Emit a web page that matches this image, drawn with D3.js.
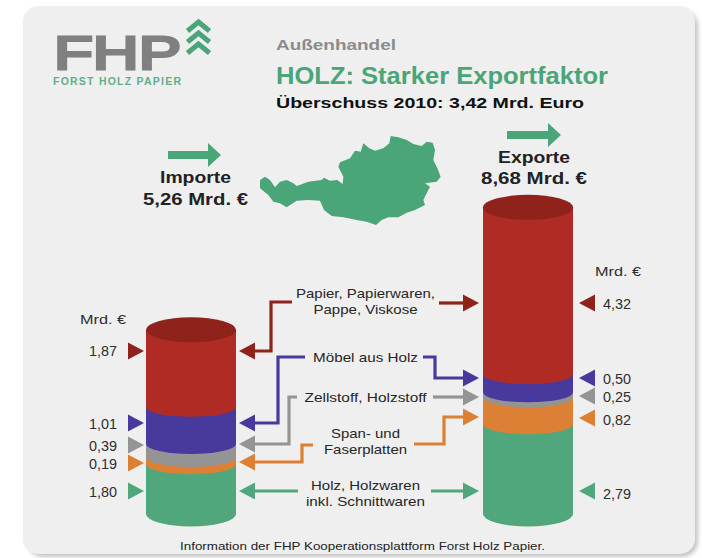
<!DOCTYPE html>
<html>
<head>
<meta charset="utf-8">
<script src="https://cdn.jsdelivr.net/npm/d3@7"></script>
<style>
html, body { margin: 0; padding: 0; background: #fff; }
svg { display: block; }
text { font-family: "Liberation Sans", Arial, sans-serif; }
</style>
</head>
<body>
<svg id="chart" width="702" height="558"></svg>
<script>
const categories = ['Papier', 'Moebel', 'Zellstoff', 'Platten', 'Holz'];
const categoryColors = ['#b02b24', '#483a9c', '#949494', '#dc8035', '#50a77b'];
const markerColors = ['#8f221b', '#483a9c', '#949494', '#dc8035', '#50a77b'];
const categoryLabels = [
    ['Papier, Papierwaren,', 'Pappe, Viskose'],
    ['Möbel aus Holz'],
    ['Zellstoff, Holzstoff'],
    ['Span- und', 'Faserplatten'],
    ['Holz, Holzwaren', 'inkl. Schnittwaren']
];

// labelled values in Mrd. Euro
const importValues = [1.87, 1.01, 0.39, 0.19, 1.80];
const exportValues = [4.32, 0.50, 0.25, 0.82, 2.79];
const importTotal = 5.26;
const exportTotal = 8.68;

// the bands in the original graphic are not drawn to scale,
// so these are the thicknesses, in the same unit
const importBands = [2.18, 1.05, 0.37, 0.20, 1.41];
const exportBands = [4.72, 0.51, 0.14, 0.76, 2.54];

// outline of Austria
const mapOutline = [[30,150],[45,140],[60,150],[75,172],[90,155],[110,150],[130,160],[140,168],[175,155],[215,150],
    [222,143],[240,152],[262,150],[278,162],[280,140],[265,110],[270,97],[300,85],[315,62],[332,65],[340,40],[358,55],
    [375,62],[400,55],[418,40],[422,18],[445,22],[470,30],[490,42],[515,48],[530,35],[548,38],[555,60],[550,90],
    [562,115],[572,140],[560,155],[525,160],[540,170],[530,190],[520,210],[525,225],[495,240],[470,248],[445,262],
    [415,262],[395,270],[378,285],[350,275],[320,270],[280,262],[245,258],[222,240],[210,212],[175,210],[140,212],
    [110,232],[90,220],[70,215],[55,195],[30,175]];

const GREEN = '#4aa578';
const svg = d3.select('#chart');
const fmt = v => v.toFixed(2).replace('.', ',');

/**
 * panel behind everything, with the soft edge on the right and at the bottom
 */
const defs = svg.append('defs');
defs.append('filter').attr('id', 'soft')
    .attr('x', '-5%').attr('y', '-5%').attr('width', '110%').attr('height', '110%')
    .append('feGaussianBlur').attr('stdDeviation', 2);
svg.append('rect')
    .attr('x', 27).attr('y', 10).attr('width', 671).attr('height', 547).attr('rx', 16)
    .attr('fill', '#c4c4c4').attr('filter', 'url(#soft)');
svg.append('rect')
    .attr('x', 23).attr('y', 6).attr('width', 672).attr('height', 548).attr('rx', 15)
    .attr('fill', '#efefef');

/**
 * logo
 */
const logo = svg.append('g');
logo.append('text')
    .attr('x', 54).attr('y', 68.5)
    .attr('textLength', 127).attr('lengthAdjust', 'spacingAndGlyphs')
    .attr('font-size', 47).attr('fill', '#808080')
    .attr('stroke', '#808080').attr('stroke-width', 3)
    .text('FHP');
logo.append('text')
    .attr('x', 53).attr('y', 85)
    .attr('textLength', 128).attr('lengthAdjust', 'spacing')
    .attr('font-size', 10.5).attr('font-weight', 'bold').attr('fill', '#5fb08a')
    .text('FORST HOLZ PAPIER');
logo.selectAll('path.chevron')
    .data([22, 33, 44])
    .enter()
    .append('path')
    .attr('class', 'chevron')
    .attr('d', d => `M187.5,${d + 9}L198.5,${d}L209.5,${d + 9}`)
    .attr('fill', 'none').attr('stroke', GREEN).attr('stroke-width', 5);

/**
 * text helper; opts.w stretches the glyphs to the width seen in the reference
 */
const addText = function(x, y, str, size, opts){
    opts = opts || {};
    const t = svg.append('text')
        .attr('x', x).attr('y', y)
        .attr('font-size', size)
        .attr('font-weight', opts.weight || 'normal')
        .attr('fill', opts.fill || '#222')
        .attr('text-anchor', opts.anchor || 'start')
        .text(str);
    if(opts.w){
        t.attr('textLength', opts.w).attr('lengthAdjust', 'spacingAndGlyphs');
    }
    return t;
};
addText(276, 50, 'Außenhandel', 15, {weight: 'bold', fill: '#8c8c8c', w: 120});
addText(276, 84, 'HOLZ: Starker Exportfaktor', 23, {weight: 'bold', fill: GREEN, w: 332});
addText(276, 108, 'Überschuss 2010: ' + fmt(exportTotal - importTotal) + ' Mrd. Euro', 15.5, {weight: 'bold', fill: '#111', w: 308});
addText(195.5, 183, 'Importe', 16, {weight: 'bold', anchor: 'middle', w: 71});
addText(195.5, 205, fmt(importTotal) + ' Mrd. €', 16, {weight: 'bold', anchor: 'middle', w: 105});
addText(534, 163, 'Exporte', 16, {weight: 'bold', anchor: 'middle', w: 72});
addText(534, 184, fmt(exportTotal) + ' Mrd. €', 16, {weight: 'bold', anchor: 'middle', w: 106});
addText(362.5, 550, 'Information der FHP Kooperationsplattform Forst Holz Papier.', 11.3, {anchor: 'middle', fill: '#222', w: 365});

/**
 * big flow arrows above the two totals
 */
const bigArrow = function(x0, x1, y){
    svg.append('path')
        .attr('d', `M${x0},${y - 4}H${x1 - 13}V${y - 12}L${x1},${y}L${x1 - 13},${y + 12}V${y + 4}H${x0}Z`)
        .attr('fill', GREEN);
};
bigArrow(168, 221, 155);
bigArrow(507, 561, 135);

/**
 * map
 */
const mapX = d3.scaleLinear().domain([0, 600]).range([250, 450]);
const mapY = d3.scaleLinear().domain([0, 300]).range([130, 230]);
svg.append('path')
    .attr('d', d3.line().x(d => mapX(d[0])).y(d => mapY(d[1])).curve(d3.curveLinearClosed)(mapOutline))
    .attr('fill', GREEN);

/**
 * cylinders
 */
const y = d3.scaleLinear().domain([0, exportTotal]).range([514, 207]);
const importX = d3.scaleBand().domain(['Importe']).range([146, 236]);
const exportX = d3.scaleBand().domain(['Exporte']).range([483, 573]);

const drawCylinder = function(xScale, name, bands){
    const x0 = xScale(name), w = xScale.bandwidth(), rx = w / 2, ry = 12.5, innerRy = 10;
    const g = svg.append('g').attr('class', 'cylinder ' + name);
    const total = d3.sum(bands);
    // running top of each band, painted bottom-up so each curve overlaps the next
    let stack = bands.map((v, i) => ({
        i: i,
        top: total - d3.sum(bands.slice(0, i)),
        bottom: total - d3.sum(bands.slice(0, i + 1)),
        ry: i === bands.length - 1 ? ry : innerRy
    }));
    // the very last band ends exactly on the baseline
    stack[stack.length - 1].bottom = 0;
    g.selectAll('path.band')
        .data(stack.slice().reverse())
        .enter()
        .append('path')
        .attr('class', 'band')
        .attr('d', d => `M${x0},${y(d.top)}V${y(d.bottom)}A${rx},${d.ry} 0 0 0 ${x0 + w},${y(d.bottom)}V${y(d.top)}Z`)
        .attr('fill', d => categoryColors[d.i]);
    // lid, and the curved upper edge it needs above the body
    g.append('ellipse')
        .attr('cx', x0 + rx).attr('cy', y(total))
        .attr('rx', rx).attr('ry', ry)
        .attr('fill', '#8f221b');
};
drawCylinder(importX, 'Importe', importBands);
drawCylinder(exportX, 'Exporte', exportBands);

/**
 * arrows and value labels
 */
const triangle = function(tipX, cy, dir, color, half){
    const h = half || 8.5;
    svg.append('path')
        .attr('d', `M${tipX},${cy}L${tipX - dir * 16},${cy - h}V${cy + h}Z`)
        .attr('fill', color);
};

// vertical centre of the markers and labels beside each cylinder
const importMarkerY = [351, 423, 445, 463, 491];
const exportMarkerY = [303, 378, 396, 418, 491];
const importLabelY = [356, 429, 451, 469, 497];
const exportLabelY = [309, 384, 402, 425, 499];

importValues.forEach(function(v, i){
    triangle(144, importMarkerY[i], 1, markerColors[i]);
    addText(117, importLabelY[i], fmt(v), 14, {anchor: 'end', fill: '#2e2e2e', w: 28});
});
exportValues.forEach(function(v, i){
    triangle(579, exportMarkerY[i], -1, markerColors[i]);
    addText(603, exportLabelY[i], fmt(v), 14, {fill: '#2e2e2e', w: 28});
});
addText(80, 324, 'Mrd. €', 13, {fill: '#2e2e2e', w: 46});
addText(595, 276, 'Mrd. €', 13, {fill: '#2e2e2e', w: 46});

// elbow routes from the category labels to the cylinders
const importRoutes = [
    [[292, 302], [271, 302], [271, 351], [254, 351]],
    [[305, 357], [278, 357], [278, 423], [254, 423]],
    [[297, 397], [289, 397], [289, 444], [254, 444]],
    [[313, 445], [302, 445], [302, 462], [254, 462]],
    [[298, 491], [254, 491]]
];
const exportRoutes = [
    [[439, 303], [465, 303]],
    [[423, 357], [435, 357], [435, 378], [465, 378]],
    [[433, 397], [465, 397]],
    [[414, 444], [444, 444], [444, 417], [465, 417]],
    [[431, 491], [465, 491]]
];
const routeLine = d3.line().curve(d3.curveLinear);
categories.forEach(function(name, i){
    const c = markerColors[i];
    [importRoutes[i], exportRoutes[i]].forEach(function(route){
        svg.append('path')
            .attr('class', 'route ' + name)
            .attr('d', routeLine(route))
            .attr('fill', 'none').attr('stroke', c)
            .attr('stroke-width', 3.2);
    });
    triangle(239, importRoutes[i][importRoutes[i].length - 1][1], -1, c);
    triangle(479, exportRoutes[i][exportRoutes[i].length - 1][1], 1, c);
});

// category labels in the middle, with the widths they have in the reference
const labelBaselines = [[298, 314], [362], [402], [438, 454], [490, 506]];
const labelWidths = [[139, 104], [105], [122], [69, 83], [109, 119]];
categoryLabels.forEach(function(lines, i){
    lines.forEach(function(line, j){
        addText(365.5, labelBaselines[i][j], line, 13, {anchor: 'middle', fill: '#262626', w: labelWidths[i][j]});
    });
});
</script>
</body>
</html>
